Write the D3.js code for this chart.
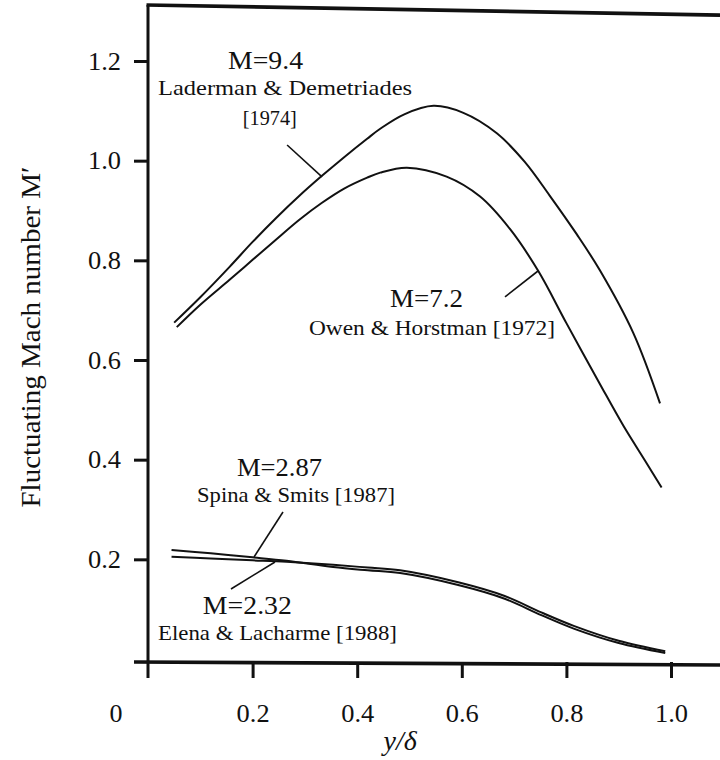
<!DOCTYPE html>
<html>
<head>
<meta charset="utf-8">
<script src="https://cdn.jsdelivr.net/npm/d3@7/dist/d3.min.js"></script>
<style>
  html, body { margin: 0; padding: 0; background: #fff; }
  svg text { font-family: "Liberation Serif", "Times New Roman", Tinos, "DejaVu Serif", "Noto Serif", FreeSerif, serif; fill: #111; }
</style>
</head>
<body>
<svg id="chart" width="720" height="760"></svg>
<script>
// ---------- data ----------
const xTickValues = [0.2, 0.4, 0.6, 0.8, 1.0];
const xTickLabels = ["0.2", "0.4", "0.6", "0.8", "1.0"];
const yTickValues = [0.2, 0.4, 0.6, 0.8, 1.0, 1.2];
const yTickLabels = ["0.2", "0.4", "0.6", "0.8", "1.0", "1.2"];

// M = 9.4, Laderman & Demetriades [1974]
const m94X = [0.05, 0.10, 0.156, 0.20, 0.244, 0.29, 0.332, 0.375, 0.419, 0.444, 0.49, 0.546, 0.603, 0.667, 0.72, 0.768, 0.82, 0.864, 0.928, 0.979];
const m94Y = [0.675, 0.726, 0.787, 0.837, 0.884, 0.930, 0.969, 1.007, 1.044, 1.064, 1.093, 1.110, 1.096, 1.055, 0.998, 0.930, 0.852, 0.780, 0.654, 0.513];
// M = 7.2, Owen & Horstman [1972]
const m72X = [0.055, 0.10, 0.156, 0.20, 0.244, 0.29, 0.332, 0.375, 0.419, 0.444, 0.495, 0.571, 0.635, 0.692, 0.746, 0.80, 0.864, 0.909, 0.954, 0.982];
const m72Y = [0.666, 0.711, 0.761, 0.801, 0.841, 0.882, 0.915, 0.944, 0.966, 0.976, 0.986, 0.968, 0.928, 0.863, 0.779, 0.674, 0.552, 0.468, 0.392, 0.344];
// M = 2.87, Spina & Smits [1987]
const m287X = [0.045, 0.12, 0.20, 0.265, 0.354, 0.42, 0.482, 0.595, 0.682, 0.752, 0.814, 0.90, 0.989];
const m287Y = [0.2187, 0.212, 0.204, 0.197, 0.1846, 0.178, 0.1725, 0.148, 0.121, 0.088, 0.061, 0.032, 0.012];
// M = 2.32, Elena & Lacharme [1988]
const m232X = [0.045, 0.12, 0.20, 0.265, 0.354, 0.42, 0.482, 0.595, 0.682, 0.752, 0.814, 0.90, 0.989];
const m232Y = [0.2053, 0.2015, 0.198, 0.195, 0.1890, 0.1835, 0.1780, 0.1535, 0.1265, 0.0935, 0.0665, 0.0365, 0.0155];

const seriesNames = ["M=9.4", "M=7.2", "M=2.87", "M=2.32"];
const seriesRefs = ["Laderman & Demetriades", "Owen & Horstman [1972]", "Spina & Smits [1987]", "Elena & Lacharme [1988]"];
const extraRef = "[1974]";

const xTitle = "y/\u03b4";
const yTitle = "Fluctuating Mach number  M\u2032";

// ---------- layout ----------
const svg = d3.select("#chart");
const x = d3.scaleLinear().domain([0, 1]).range([148, 671]);
const y = d3.scaleLinear().domain([0, 1.2]).range([659, 61]);
const ink = "#111";
const axisY = y(0) + 3;

// frame: left axis, top edge, bottom axis
svg.append("line").attr("x1", x(0)).attr("x2", x(0)).attr("y1", y(1.3125)).attr("y2", axisY + 16)
  .attr("stroke", ink).attr("stroke-width", 3);
svg.append("line").attr("x1", x(0) - 1.5).attr("x2", 720).attr("y1", y(1.3125)).attr("y2", y(1.292))
  .attr("stroke", ink).attr("stroke-width", 3.6);
svg.append("line").attr("x1", x(0) - 14).attr("x2", 720).attr("y1", axisY).attr("y2", axisY + 3)
  .attr("stroke", ink).attr("stroke-width", 3.6);

// y ticks
const yAxis = d3.axisLeft(y).tickValues(yTickValues).tickSize(14).tickFormat((d, i) => yTickLabels[i]);
const gy = svg.append("g").attr("transform", `translate(${x(0)},0)`).call(yAxis);
gy.select(".domain").remove();
gy.selectAll(".tick line").attr("stroke", ink).attr("stroke-width", 3);
gy.selectAll(".tick text").attr("x", -27).attr("font-size", 26).attr("fill", ink)
  .attr("textLength", 33).attr("lengthAdjust", "spacingAndGlyphs");

// x ticks
const xAxis = d3.axisBottom(x).tickValues(xTickValues).tickSize(16).tickFormat((d, i) => xTickLabels[i]);
const gx = svg.append("g").attr("transform", `translate(0,${axisY})`).call(xAxis);
gx.select(".domain").remove();
gx.selectAll(".tick line").attr("stroke", ink).attr("stroke-width", 3);
gx.selectAll(".tick text").attr("y", 51).attr("dy", "0.35em").attr("font-size", 26).attr("fill", ink)
  .attr("textLength", 33).attr("lengthAdjust", "spacingAndGlyphs");
// origin label
svg.append("text").attr("x", x(0) - 32).attr("y", axisY + 51).attr("dy", "0.35em")
  .attr("text-anchor", "middle").attr("font-size", 26).text("0");

// axis titles
svg.append("text").attr("x", x(0.482)).attr("y", 750).attr("text-anchor", "middle")
  .attr("font-size", 28).attr("font-style", "italic").text(xTitle);
svg.append("text").attr("transform", `translate(40,${y(0.646)}) rotate(-90)`)
  .attr("text-anchor", "middle").attr("font-size", 28)
  .attr("textLength", 341).attr("lengthAdjust", "spacingAndGlyphs").text(yTitle);

// curves
const line = d3.line().x(d => x(d[0])).y(d => y(d[1])).curve(d3.curveCatmullRom.alpha(0.5));
const series = [[m94X, m94Y], [m72X, m72Y], [m287X, m287Y], [m232X, m232Y]];
series.forEach(([xs, ys]) => {
  svg.append("path").datum(xs.map((v, i) => [v, ys[i]]))
    .attr("d", line).attr("fill", "none").attr("stroke", ink).attr("stroke-width", 2);
});

// annotations (positions in data units)
function label(txt, vx, vy, size, width) {
  svg.append("text").attr("x", x(vx)).attr("y", y(vy)).attr("text-anchor", "middle")
    .attr("font-size", size).attr("textLength", width).attr("lengthAdjust", "spacingAndGlyphs").text(txt);
}
function leader(x1, y1, x2, y2) {
  svg.append("line").attr("x1", x(x1)).attr("y1", y(y1)).attr("x2", x(x2)).attr("y2", y(y2))
    .attr("stroke", ink).attr("stroke-width", 1.6);
}
label(seriesNames[0], 0.2247, 1.184, 26, 75);
label(seriesRefs[0], 0.262, 1.132, 21, 254);
label(extraRef, 0.233, 1.072, 21, 54);
leader(0.266, 1.0315, 0.3327, 0.9673);

label(seriesNames[1], 0.5325, 0.7064, 26, 73);
label(seriesRefs[1], 0.543, 0.650, 21, 246);
leader(0.6826, 0.7265, 0.7457, 0.7786);

label(seriesNames[2], 0.2514, 0.3672, 26, 85);
label(seriesRefs[2], 0.283, 0.3151, 21, 198);
leader(0.2581, 0.295, 0.2027, 0.2047);

label(seriesNames[3], 0.190, 0.0903, 26, 89);
label(seriesRefs[3], 0.2476, 0.0381, 21, 239);
leader(0.1587, 0.1405, 0.2428, 0.1947);
</script>
</body>
</html>
